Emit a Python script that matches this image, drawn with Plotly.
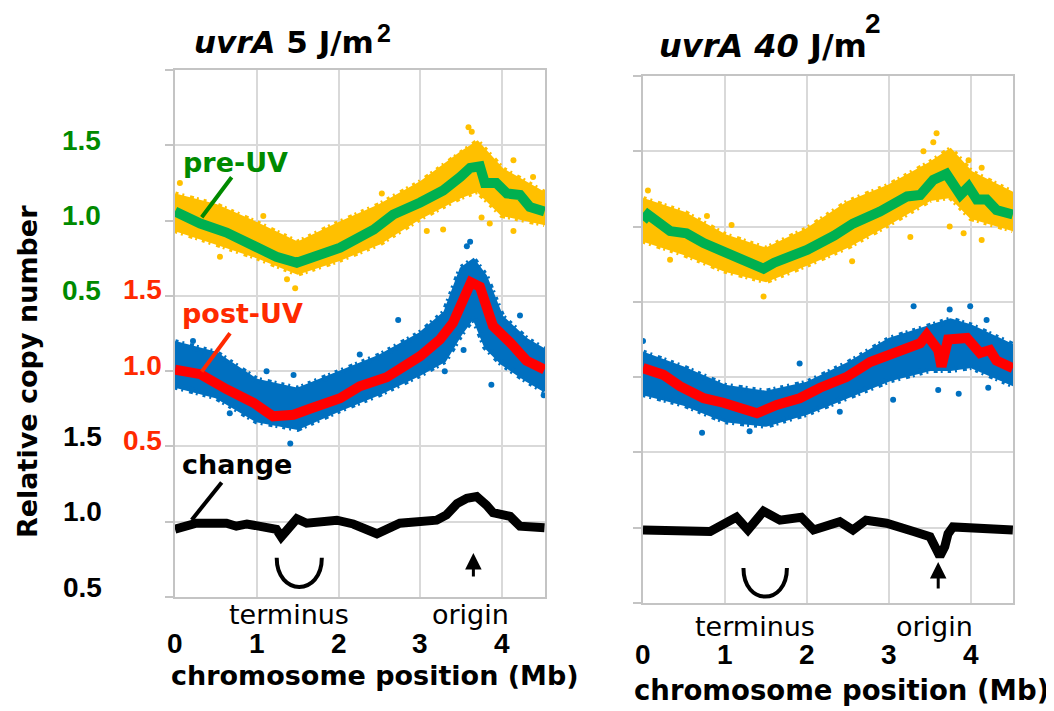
import plotly.graph_objects as go

# the page body has an 8px margin, so the figure is sized to fit the window
PAGE_W, PAGE_H, BODY_M = 1054, 711, 8
W, H = PAGE_W - BODY_M, PAGE_H - BODY_M

# ---------------- data ----------------
# offsets used to stack the three tracks on one axis
OFF_PRE, OFF_POST, OFF_CHG = 2.0, 1.0, 0.0

# ---- left panel: uvrA 5 J/m2 ----
L_pre_x = [0.0, 0.31, 0.63, 1.0, 1.24, 1.49, 1.65, 2.02, 2.43, 2.67, 3.0, 3.28, 3.49, 3.61, 3.73, 3.79, 3.93, 4.06, 4.22, 4.34, 4.52]
L_pre_y = [1.06, 0.98, 0.92, 0.83, 0.76, 0.72, 0.75, 0.82, 0.94, 1.04, 1.12, 1.20, 1.29, 1.35, 1.36, 1.25, 1.25, 1.18, 1.17, 1.09, 1.06]

L_post_x = [0.0, 0.31, 0.63, 0.96, 1.20, 1.45, 1.65, 2.02, 2.26, 2.59, 3.0, 3.24, 3.40, 3.49, 3.55, 3.62, 3.73, 3.80, 3.89, 4.10, 4.30, 4.52]
L_post_y = [1.01, 0.98, 0.88, 0.79, 0.70, 0.71, 0.75, 0.82, 0.90, 0.96, 1.10, 1.21, 1.32, 1.43, 1.54, 1.59, 1.56, 1.43, 1.30, 1.19, 1.07, 1.01]

L_chg_x = [0.0, 0.26, 0.63, 0.75, 0.88, 1.04, 1.24, 1.30, 1.37, 1.49, 1.61, 1.98, 2.18, 2.47, 2.75, 3.20, 3.32, 3.45, 3.57, 3.69, 3.81, 3.89, 4.10, 4.22, 4.52]
L_chg_y = [0.95, 0.99, 0.99, 0.97, 0.985, 0.97, 0.95, 0.90, 0.95, 1.02, 0.99, 1.01, 0.985, 0.92, 0.99, 1.01, 1.045, 1.12, 1.156, 1.167, 1.11, 1.06, 1.035, 0.97, 0.96]

L_yel_x = [0.0, 0.5, 1.0, 1.5, 2.0, 2.5, 3.0, 3.5, 3.7, 4.0, 4.52]
L_yel_hi = [1.17, 1.10, 0.98, 0.85, 0.98, 1.10, 1.25, 1.45, 1.52, 1.34, 1.18]
L_yel_lo = [0.94, 0.85, 0.76, 0.65, 0.74, 0.85, 1.02, 1.16, 1.20, 1.04, 0.98]
L_yel_out_x = [1.08, 1.47, 3.59, 3.63, 3.28, 4.14, 4.38, 4.14, 3.08, 0.55, 3.75, 3.85, 1.37, 2.53, 0.06]
L_yel_out_y = [1.03, 0.55, 1.62, 1.59, 0.94, 1.40, 1.29, 0.93, 0.93, 0.76, 1.02, 0.98, 0.61, 1.18, 1.25]

L_blu_x = [0.0, 0.5, 1.0, 1.5, 2.0, 2.5, 3.0, 3.3, 3.5, 3.65, 3.8, 4.0, 4.3, 4.52]
L_blu_hi = [1.19, 1.12, 0.94, 0.88, 0.99, 1.10, 1.25, 1.39, 1.68, 1.74, 1.63, 1.36, 1.21, 1.14]
L_blu_lo = [0.90, 0.83, 0.67, 0.62, 0.74, 0.85, 0.98, 1.07, 1.25, 1.36, 1.16, 1.05, 0.94, 0.87]
L_blu_out_x = [1.41, 1.12, 1.45, 2.73, 2.26, 3.30, 3.53, 3.87, 4.51, 4.22, 3.61, 3.57, 0.22, 0.67]
L_blu_out_y = [0.52, 1.00, 0.975, 1.34, 1.11, 1.00, 1.14, 0.91, 0.84, 1.37, 1.86, 1.83, 1.20, 0.72]

# ---- right panel: uvrA 40 J/m2 ----
R_pre_x = [0.0, 0.06, 0.33, 0.53, 0.74, 1.02, 1.22, 1.47, 1.60, 2.00, 2.33, 2.56, 2.89, 3.22, 3.38, 3.54, 3.70, 3.78, 3.87, 3.97, 4.07, 4.19, 4.31, 4.51]
R_pre_y = [1.04, 1.08, 0.97, 0.955, 0.89, 0.83, 0.77, 0.72, 0.76, 0.845, 0.94, 1.02, 1.10, 1.20, 1.21, 1.31, 1.35, 1.29, 1.21, 1.265, 1.18, 1.18, 1.11, 1.08]

R_post_x = [0.0, 0.25, 0.45, 0.74, 0.98, 1.18, 1.39, 1.63, 1.91, 2.16, 2.48, 2.77, 3.05, 3.26, 3.38, 3.46, 3.56, 3.60, 3.64, 3.68, 3.72, 3.95, 4.11, 4.23, 4.31, 4.51]
R_post_y = [1.06, 1.015, 0.94, 0.86, 0.83, 0.79, 0.76, 0.815, 0.86, 0.93, 1.00, 1.10, 1.16, 1.21, 1.225, 1.28, 1.225, 1.18, 1.07, 1.14, 1.25, 1.26, 1.16, 1.18, 1.11, 1.06]

R_chg_x = [0.0, 0.53, 0.82, 1.14, 1.28, 1.47, 1.67, 1.93, 2.08, 2.40, 2.56, 2.72, 2.97, 3.30, 3.50, 3.56, 3.62, 3.68, 3.72, 3.78, 4.19, 4.51]
R_chg_y = [0.985, 0.985, 0.975, 1.07, 0.985, 1.11, 1.05, 1.07, 0.985, 1.04, 0.985, 1.05, 1.03, 0.975, 0.94, 0.875, 0.81, 0.875, 0.96, 1.005, 0.995, 0.985]

R_yel_x = [0.0, 0.5, 1.0, 1.5, 2.0, 2.5, 3.0, 3.5, 3.75, 4.0, 4.51]
R_yel_hi = [1.18, 1.09, 0.94, 0.85, 0.98, 1.16, 1.27, 1.42, 1.51, 1.36, 1.22]
R_yel_lo = [0.91, 0.82, 0.71, 0.64, 0.75, 0.87, 1.02, 1.18, 1.20, 1.06, 0.98]
R_yel_out_x = [3.58, 3.54, 3.42, 3.74, 3.91, 4.13, 3.26, 2.55, 1.47, 1.08, 0.06, 0.78, 3.97, 4.13, 0.33]
R_yel_out_y = [1.62, 1.56, 1.50, 1.00, 0.955, 0.91, 0.93, 0.77, 0.535, 1.01, 1.24, 1.07, 1.44, 1.39, 0.78]

R_blu_x = [0.0, 0.5, 1.0, 1.5, 2.0, 2.5, 3.0, 3.5, 3.75, 4.0, 4.51]
R_blu_hi = [1.16, 1.06, 0.94, 0.90, 0.96, 1.09, 1.25, 1.34, 1.38, 1.34, 1.21]
R_blu_lo = [0.89, 0.82, 0.71, 0.68, 0.76, 0.87, 0.98, 1.05, 1.05, 1.07, 0.95]
R_blu_out_x = [0.0, 0.72, 1.91, 3.30, 3.74, 3.99, 3.60, 3.85, 3.05, 4.19, 4.21, 2.40, 1.30]
R_blu_out_y = [1.24, 0.63, 1.09, 1.47, 1.45, 1.47, 0.915, 0.89, 0.85, 1.38, 0.93, 0.77, 0.64]

x_ticks = [0, 1, 2, 3, 4]
y_tick_vals = [1.5, 1.0, 0.5]
y_tick_text = ["1.5", "1.0", "0.5"]
terminus_center = [1.52, 1.49]
origin_pos = [3.65, 3.60]

# ---------------- styling ----------------
YEL, BLU, GRN, RED, BLK = "#ffc000", "#0070c0", "#00b050", "#ff0000", "#000000"
GTXT, RTXT = "#008a00", "#ff2a00"
GRID, AXL = "#d9d9d9", "#c4c4c4"
WORD = "DejaVu Sans, Liberation Sans, sans-serif"
NUM = "Liberation Sans, Arial, sans-serif"
RIM_DASH = "3px,4px,2px,6px,4px,3px,2px,5px"


def px(xp):  # window pixel -> paper x
    return (xp - BODY_M) / W


def py(yp):  # window pixel -> paper y
    return 1 - (yp - BODY_M) / H


fig = go.Figure()


def off(vals, o):
    return [v + o for v in vals]


def band(x, hi, lo, o, color, xa, ya):
    fig.add_trace(go.Scatter(
        x=x + x[::-1], y=off(hi, o) + off(lo[::-1], o), fill="toself",
        fillcolor=color, mode="lines", line=dict(color=color, width=3),
        xaxis=xa, yaxis=ya, hoverinfo="skip", showlegend=False))
    # broken rims give the ragged, speckled edge of the point cloud
    for edge in (hi, lo):
        fig.add_trace(go.Scatter(
            x=x, y=off(edge, o), mode="lines",
            line=dict(color=color, width=7, dash=RIM_DASH),
            xaxis=xa, yaxis=ya, hoverinfo="skip", showlegend=False))


def dots(x, y, o, color, xa, ya):
    fig.add_trace(go.Scatter(
        x=x, y=off(y, o), mode="markers", marker=dict(color=color, size=6),
        xaxis=xa, yaxis=ya, showlegend=False, cliponaxis=True))


def trend(x, y, o, color, width, xa, ya):
    fig.add_trace(go.Scatter(
        x=x, y=off(y, o), mode="lines", line=dict(color=color, width=width),
        xaxis=xa, yaxis=ya, showlegend=False))


for xa, ya, P in [("x", "y", "L"), ("x2", "y2", "R")]:
    g = globals()
    band(g[P + "_yel_x"], g[P + "_yel_hi"], g[P + "_yel_lo"], OFF_PRE, YEL, xa, ya)
    dots(g[P + "_yel_out_x"], g[P + "_yel_out_y"], OFF_PRE, YEL, xa, ya)
    band(g[P + "_blu_x"], g[P + "_blu_hi"], g[P + "_blu_lo"], OFF_POST, BLU, xa, ya)
    dots(g[P + "_blu_out_x"], g[P + "_blu_out_y"], OFF_POST, BLU, xa, ya)
    trend(g[P + "_pre_x"], g[P + "_pre_y"], OFF_PRE, GRN, 10, xa, ya)
    trend(g[P + "_post_x"], g[P + "_post_y"], OFF_POST, RED, 10, xa, ya)
    trend(g[P + "_chg_x"], g[P + "_chg_y"], OFF_CHG, BLK, 9, xa, ya)

axis_common = dict(showgrid=True, gridcolor=GRID, gridwidth=2, showline=True,
                   linecolor=AXL, linewidth=2, mirror=True, zeroline=False,
                   showticklabels=False, fixedrange=True)
yaxis_common = dict(axis_common, range=[0.5, 4.0], tick0=0.5, dtick=0.5,
                    ticks="outside", ticklen=8, tickcolor=AXL, tickwidth=2)
xaxis_common = dict(axis_common, tickvals=x_ticks, ticks="")

fig.update_layout(
    width=W, height=H, autosize=False,
    margin=dict(l=0, r=0, t=0, b=0),
    paper_bgcolor="white", plot_bgcolor="white",
    showlegend=False,
    xaxis=dict(xaxis_common, domain=[px(175), px(545)], range=[0, 4.526], anchor="y"),
    yaxis=dict(yaxis_common, domain=[py(597), py(70)], anchor="x"),
    xaxis2=dict(xaxis_common, domain=[px(643), px(1013)], range=[0, 4.512], anchor="y2"),
    yaxis2=dict(yaxis_common, domain=[py(603), py(76)], anchor="x2"),
)

ann = []


def text(x, y, s, size, color="black", family=WORD, xref="paper", yref="paper",
         xanchor="center", yanchor="middle", yshift=0, angle=0):
    ann.append(dict(x=x, y=y, text=s, xref=xref, yref=yref, showarrow=False,
                    xanchor=xanchor, yanchor=yanchor, yshift=yshift, textangle=angle,
                    font=dict(family=family, size=size, color=color)))


# titles
text(px(192), py(42), "<b><i>uvrA</i> 5 J/m</b>", 31, xanchor="left")
text(px(384), py(33), "<b>2</b>", 25, family=NUM)
text(px(657), py(46), "<b><i>uvrA 40</i> J/m</b>", 32, xanchor="left")
text(px(873), py(24), "<b>2</b>", 28, family=NUM)

# y axis title
text(px(27), py(372), "<b>Relative copy number</b>", 27, angle=-90)

# y tick labels (three stacked scales)
for v, t in zip(y_tick_vals, y_tick_text):
    text(px(81), v + OFF_PRE, "<b>%s</b>" % t, 28, GTXT, NUM, yref="y", yshift=5)
    text(px(142), v + OFF_POST, "<b>%s</b>" % t, 28, RTXT, NUM, yref="y", yshift=6)
    text(px(82), v + OFF_CHG, "<b>%s</b>" % t, 28, BLK, NUM, yref="y", yshift=10)

# x tick labels and x titles
for xr, ytk, ytitle, xt_center, tsize in [("x", 643, 675, 375, 27), ("x2", 654, 690, 841, 27.5)]:
    for v in x_ticks:
        text(v, py(ytk), "<b>%d</b>" % v, 28, BLK, NUM, xref=xr)
    text(px(xt_center), py(ytitle), "<b>chromosome position (Mb)</b>", tsize)
# landmarks
text(1.40, py(614), "terminus", 27, xref="x")
text(3.61, py(614), "origin", 27, xref="x")
text(1.37, py(626), "terminus", 27, xref="x2")
text(3.56, py(626), "origin", 27, xref="x2")

# series labels (left panel)
text(0.734, py(163), "<b>pre-UV</b>", 27, GTXT, xref="x")
text(0.82, py(314), "<b>post-UV</b>", 27, RTXT, xref="x")
text(0.76, py(464), "<b>change</b>", 27, BLK, xref="x")

# origin arrows
for xr, yr, xo, yo, ay in [("x", "y", origin_pos[0], 0.793, 25), ("x2", "y2", origin_pos[1], 0.773, 28)]:
    ann.append(dict(x=xo, y=yo, xref=xr, yref=yr, ax=0, ay=ay, text="", showarrow=True,
                    arrowhead=2, arrowsize=1.1, arrowwidth=3, arrowcolor="black", standoff=0))

fig.update_layout(annotations=ann)

shapes = []
# leader lines
shapes.append(dict(type="line", xref="x", yref="y", x0=0.693, y0=3.288, x1=0.327, y1=3.022,
                   line=dict(color="#008a00", width=4)))
shapes.append(dict(type="line", xref="x", yref="y", x0=0.673, y0=2.252, x1=0.327, y1=1.997,
                   line=dict(color=RTXT, width=4)))
shapes.append(dict(type="line", xref="x", yref="y", x0=0.571, y0=1.260, x1=0.204, y1=1.012,
                   line=dict(color="black", width=4)))
# terminus "U" marks
for xr, yr, c, half, top, ctrl in [("x", "y", terminus_center[0], 0.276, 0.760, 0.503),
                                    ("x2", "y2", terminus_center[1], 0.265, 0.733, 0.479)]:
    path = "M %.3f,%.3f C %.3f,%.3f %.3f,%.3f %.3f,%.3f" % (
        c - half, top, c - half, ctrl, c + half, ctrl, c + half, top)
    shapes.append(dict(type="path", xref=xr, yref=yr, path=path,
                       line=dict(color="black", width=4)))
fig.update_layout(shapes=shapes)

fig.write_html("out.html")
